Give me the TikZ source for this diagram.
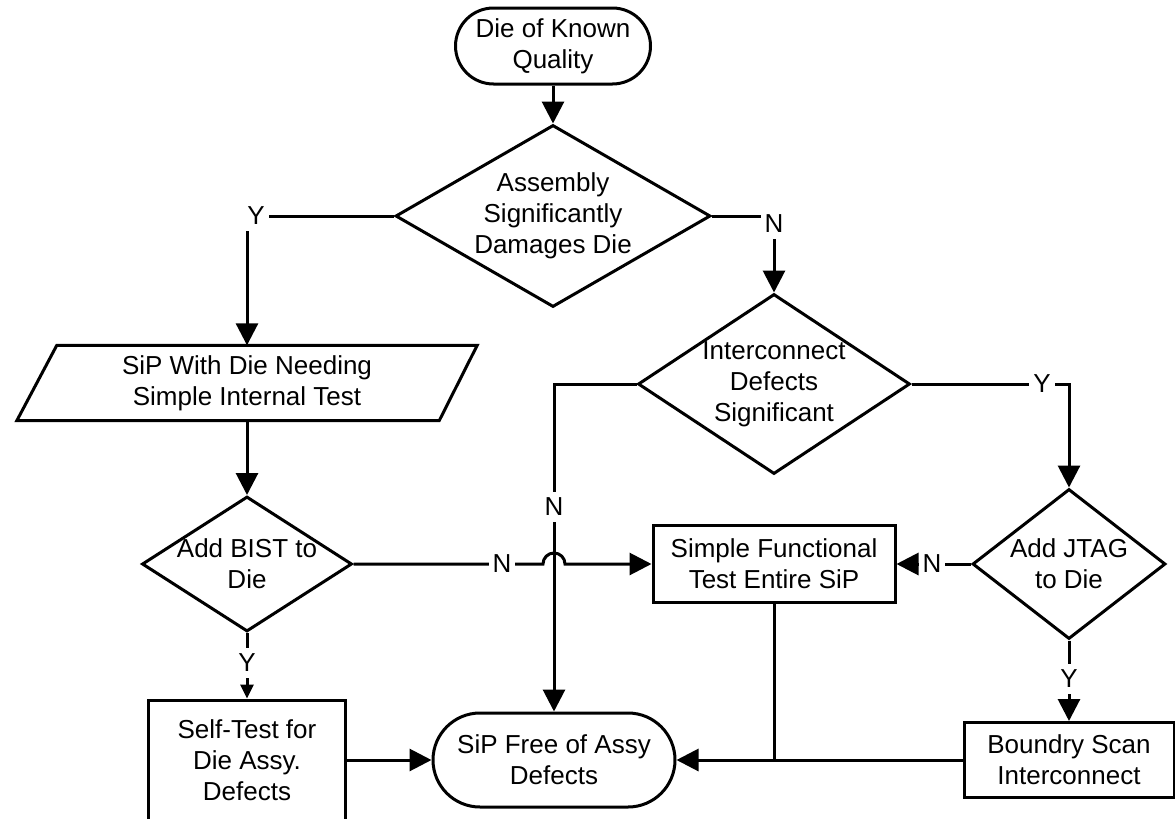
\documentclass[tikz,border=0pt]{standalone}
\usepackage{fontspec}
\setmainfont{Liberation Sans}
\usetikzlibrary{shapes.geometric}
\usetikzlibrary{arrows.meta}

\begin{document}
\begin{tikzpicture}[x=1pt,y=-1pt]
\tikzset{txt/.style = {align=center,inner sep=0pt,font=\fontsize{26}{31}\selectfont}}
\tikzset{box/.style = {txt,shape=rectangle,draw,line width=3pt}}
\tikzset{term/.style = {box}}
\tikzset{decision/.style = {shape=diamond,draw,line width=3pt,inner sep=0pt}}
\tikzset{lbl/.style = {fill=white,inner xsep=4pt,inner ysep=6pt,font=\fontsize{26}{31}\selectfont}}
\tikzset{line/.style = {line width=3pt}}
\tikzset{flow/.style = {line,-{Triangle[length=22pt,width=22pt]}}}
\tikzset{flowsmall/.style = {line,-{Triangle[length=14pt,width=13pt]}}}
\useasboundingbox (0,0) rectangle (1175,819);

\node[term,minimum width=195pt,minimum height=76pt,rounded corners=38pt] (start) at (553,46) {Die of Known\\Quality};
\node[decision,minimum width=315pt,minimum height=182pt] (dmg) at (553,216) {};
\node[txt] (dmgt) at (dmg) {Assembly\\Significantly\\Damages Die};
\node[decision,minimum width=272pt,minimum height=180pt] (icd) at (774,384) {};
\node[txt] (icdt) at (icd) {Interconnect\\Defects\\Significant};
\node[txt,minimum width=460pt,minimum height=75pt] (sip) at (247,383) {SiP With Die Needing\\Simple Internal Test};
\draw[line] ([xshift=40pt]sip.north west) -- (sip.north east) -- ([xshift=-38pt]sip.south east) -- (sip.south west) -- cycle;
\node[decision,minimum width=210pt,minimum height=135pt] (bist) at (247,564) {};
\node[txt] (bistt) at (bist) {Add BIST to\\Die};
\node[decision,minimum width=193pt,minimum height=150pt] (jtag) at (1069,564) {};
\node[txt] (jtagt) at (jtag) {Add JTAG\\to Die};
\node[box,minimum width=242pt,minimum height=77pt] (func) at (774,564) {Simple Functional\\Test Entire SiP};
\node[box,minimum width=197pt,minimum height=120pt] (self) at (247,760) {Self-Test for\\Die Assy.\\Defects};
\node[term,minimum width=242pt,minimum height=94pt,rounded corners=47pt] (free) at (554,760) {SiP Free of Assy\\Defects};
\node[box,minimum width=210pt,minimum height=75pt] (bscan) at (1069,760) {Boundry Scan\\Interconnect};
\coordinate (hop) at (bist.east -| free.north);

\draw[flow] (start.south) -- (dmg.north);
\draw[flow] (dmg.west) -| (sip.north);
\draw[flow] (dmg.east) -| (icd.north);
\draw[flow] (icd.west) -| (free.north);
\draw[flow] (icd.east) -| (jtag.north);
\draw[flow] (sip.south) -- (bist.north);
\draw[flow] (bist.east) -- ([xshift=-11pt]hop) arc[start angle=180,end angle=0,radius=11pt] -- (func.west);
\draw[flow] (jtag.west) -- (func.east);
\draw[flowsmall] (bist.south) -- (self.north);
\draw[flow] (jtag.south) -- (bscan.north);
\draw[flow] (self.east) -- (free.west);
\draw[flow] (bscan.west) -- (free.east);
\draw[line] (func.south) -- (func.south |- free.east);

\node[lbl] (ya) at (256,216) {Y};
\node[lbl] (na) at (774,224) {N};
\node[lbl] (nb) at (554,507) {N};
\node[lbl] (yb) at (1042,384) {Y};
\node[lbl] (nc) at (502,564) {N};
\node[lbl] (nd) at (932,564) {N};
\node[lbl] (yc) at (247,663) {Y};
\node[lbl] (yd) at (1069,679) {Y};
\end{tikzpicture}
\end{document}
